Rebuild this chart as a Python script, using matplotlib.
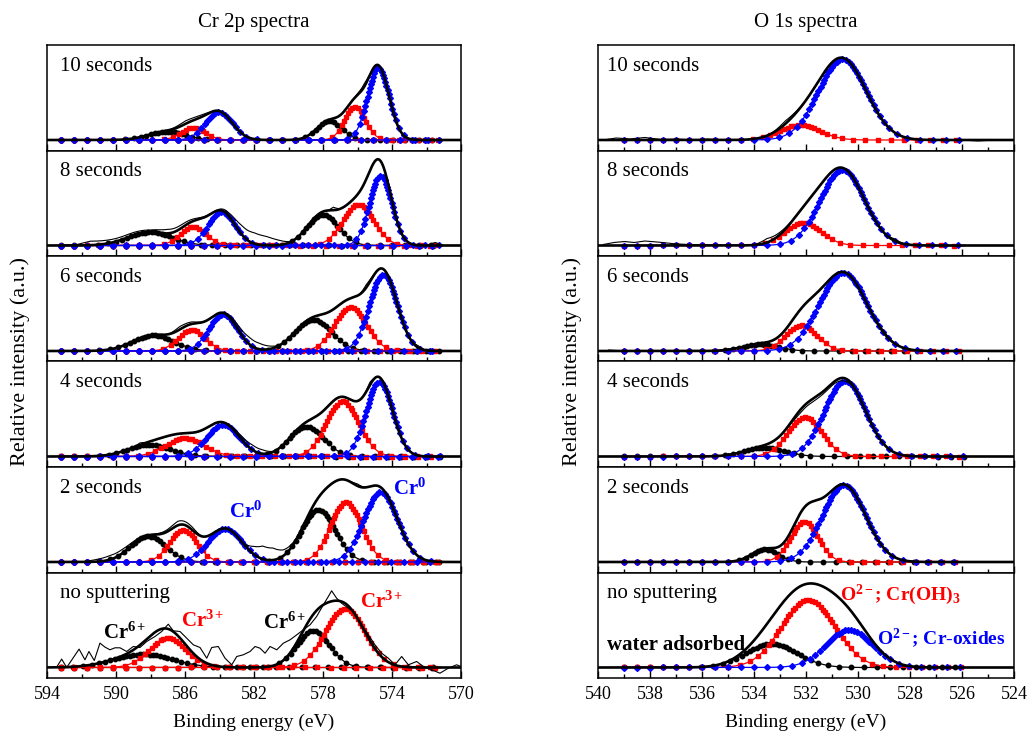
import numpy as np
import matplotlib
matplotlib.use("Agg")
import matplotlib.pyplot as plt

plt.rcParams["font.family"] = ["Liberation Serif", "DejaVu Serif"]
plt.rcParams["mathtext.fontset"] = "custom"
plt.rcParams["mathtext.rm"] = "Liberation Serif"
plt.rcParams["mathtext.bf"] = "Liberation Serif:bold"
plt.rcParams["mathtext.it"] = "Liberation Serif:italic"

panel_labels = ["10 seconds", "8 seconds", "6 seconds", "4 seconds", "2 seconds", "no sputtering"]

# Cr 2p fit components per panel: (centre eV, height, FWHM eV) for the 2p3/2 and 2p1/2 peaks
cr6_peaks = [
    [(577.63, 19.0, 1.70), (587.06, 8.3, 2.50)],
    [(578.02, 31.0, 2.10), (588.03, 13.3, 3.00)],
    [(578.56, 31.3, 2.50), (587.84, 15.7, 2.80)],
    [(578.95, 30.0, 2.32), (588.03, 11.7, 2.90)],
    [(578.27, 52.3, 2.30), (588.13, 25.7, 2.40)],
    [(578.56, 37.0, 2.22), (588.42, 13.3, 4.00)],
]
cr3_peaks = [
    [(576.14, 33.3, 1.40), (585.52, 12.3, 1.64)],
    [(575.95, 41.0, 2.10), (585.52, 19.0, 1.74)],
    [(576.40, 44.0, 2.16), (585.61, 21.3, 1.84)],
    [(576.86, 55.0, 2.22), (586.00, 18.3, 2.60)],
    [(576.67, 60.0, 2.10), (586.10, 32.3, 1.84)],
    [(576.72, 58.7, 2.70), (587.00, 29.3, 2.50)],
]
cr0_peaks = [
    [(574.79, 72.3, 1.47), (584.03, 27.7, 1.84)],
    [(574.66, 70.0, 1.50), (583.87, 33.3, 1.84)],
    [(574.50, 76.7, 1.90), (583.78, 36.7, 1.93)],
    [(574.73, 75.0, 1.80), (583.78, 31.7, 2.22)],
    [(574.66, 70.0, 2.30), (583.68, 33.3, 2.30)],
    [],
]

# O 1s fit components per panel: (centre eV, height, FWHM eV)
o_water = [None, None, (533.77, 6.7, 1.6), (533.58, 9.0, 1.8), (533.58, 12.7, 1.2), (533.32, 23.7, 2.3)]
o_hydroxide = [(532.23, 15.0, 1.8), (532.10, 23.0, 1.6), (532.17, 25.7, 1.4),
               (532.04, 39.3, 1.54), (532.06, 40.3, 1.25), (531.91, 67.7, 2.41)]
o_oxide = [(530.60, 80.7, 2.17), (530.60, 75.7, 2.0), (530.57, 78.3, 2.15),
           (530.50, 75.7, 1.85), (530.54, 77.0, 1.95), (530.33, 37.7, 2.10)]

# measured spectrum minus fit envelope, (eV, difference)
cr_residual = [
    [(587.0, 0), (586.0, 3), (585.0, 2), (584.3, 0), (576.3, 0), (575.6, 3), (575.1, 0)],
    [(592.5, 0), (591.5, 4), (590.0, 3), (589.0, 3), (588.0, 2), (587.0, 4), (586.0, 3), (585.0, 1),
     (584.3, 0), (583.5, 3), (582.7, 9), (582.0, 11), (581.3, 9), (580.6, 5), (579.8, 0),
     (577.7, 0), (577.4, 3), (577.0, 0), (572.0, 0), (571.5, 3), (571.0, 0)],
    [(587.0, 0), (586.3, 3), (585.6, 2), (585.0, 0), (583.8, 0), (583.0, 4), (582.3, 7), (581.7, 6),
     (581.1, 3), (580.5, 0), (575.9, 0), (575.5, 3), (574.9, 0), (573.0, 0), (572.5, 2), (572.0, 0)],
    [(589.0, 0), (588.6, 2), (588.2, 0), (583.6, 0), (582.8, 3), (582.1, 5), (581.5, 4), (580.8, 0),
     (575.6, 0), (575.3, 3), (575.0, 0)],
    [(592.0, 0), (591.2, 2), (590.4, 4), (589.6, 4), (588.8, 2), (588.0, 0), (587.0, 2), (586.4, 4),
     (585.6, 3), (585.0, 0), (582.6, 0), (582.0, 8), (581.5, 13), (580.9, 12), (580.3, 6),
     (579.7, 2), (579.2, 0), (576.5, 0), (576.0, 2), (575.5, 0)],
    None,
]
o_residual = [
    [(539.8, 0), (539.3, 2), (538.8, 1), (538.2, 2.5), (537.6, 0.5), (537.0, 1), (536.4, 0),
     (535.8, 1), (535.2, 0), (533.4, 0), (532.8, 3), (532.0, 0), (526.0, 0), (525.4, -1), (524.8, 0)],
    [(539.8, 1), (539.4, 3), (539.0, 4), (538.6, 3), (538.2, 4.5), (537.7, 3.5), (537.2, 2),
     (536.6, 1), (536.0, 0.5), (535.4, 0), (534.0, 0), (533.5, 4), (532.9, 2), (532.4, 0),
     (529.0, 0), (528.6, 2), (528.2, 0)],
    [(539.6, 1), (539.0, 0), (529.5, 0), (529.0, 2), (528.5, 0)],
    [(532.8, 0), (532.3, -3), (531.7, -3), (531.0, -2), (530.5, -3), (530.0, 0)],
    [],
    [],
]

# unsputtered Cr 2p spectrum (noisy)
cr_raw_energy = [593.44, 593.15, 592.86, 592.14, 591.80, 591.57, 591.26, 590.93, 590.64, 590.35,
                 590.06, 589.77, 589.38, 589.00, 588.61, 588.22, 587.74, 587.35, 586.97, 586.68,
                 586.29, 585.90, 585.52, 585.13, 584.74, 584.45, 584.07, 583.68, 583.29, 583.00,
                 582.62, 582.23, 581.94, 581.65, 581.36, 581.07, 580.68, 580.30, 579.91, 579.52,
                 579.14, 578.75, 578.37, 577.98, 577.69, 577.50, 577.21, 576.92, 576.53, 576.14,
                 575.76, 575.37, 574.99, 574.60, 574.21, 573.83, 573.44, 573.05, 572.57, 572.19,
                 571.70, 571.22, 570.74, 570.25, 570.00]
cr_raw_counts = [0.4, 8.4, 0.0, 18.4, 7.7, 16.0, 7.0, 24.4, 20.4, 17.7,
                 19.7, 19.7, 16.0, 21.0, 20.0, 26.0, 31.0, 36.0, 43.3, 36.7,
                 36.0, 29.3, 22.7, 20.0, 9.3, 20.0, 21.0, 9.3, 2.7, 11.0,
                 12.7, 16.0, 21.0, 19.3, 14.3, 21.0, 17.7, 24.3, 27.7, 32.7,
                 37.7, 42.7, 51.0, 62.7, 71.0, 76.7, 69.3, 64.3, 59.3, 54.3,
                 42.7, 32.7, 22.7, 14.3, 9.3, 2.7, 11.0, 2.7, 6.0, 1.0,
                 -2.3, -5.7, -0.7, 2.7, 1.0]

RED = "#ff0000"
BLUE = "#0000ff"


def gauss(e, peak):
    c, h, w = peak
    return h * np.exp(-4 * np.log(2) * ((e - c) / w) ** 2)


def marker_positions(e, y, px_per_ev, step=13.0):
    # denser symbols on the peaks, sparse on the flat baseline
    x = e * px_per_ev
    ds = np.hypot(np.diff(x), np.diff(y))
    ymax = max(y.max(), 1e-6)
    ds = ds * (1 + 3 * np.clip(y[1:], 0, None) / ymax)
    s = np.concatenate([[0], np.cumsum(ds)])
    return np.unique(np.searchsorted(s, np.arange(0, s[-1], step)))


def draw_component(ax, e, y, px_per_ev, color, marker, ms):
    ax.plot(e, y, color=color, lw=0.9, marker=marker, ms=ms, mec=color, mfc=color,
            markevery=list(marker_positions(e, y, px_per_ev)), zorder=2)


def style_axis(ax, lo, hi, major, minor, bottom):
    ax.set_xlim(hi, lo)
    ax.set_ylim(-10.5, 95)
    ax.set_xticks(major)
    ax.set_xticks(minor, minor=True)
    ax.set_yticks([])
    ax.tick_params(axis="x", which="major", direction="in", length=5, width=1, top=False,
                   labelbottom=bottom, labelsize=13, pad=6)
    ax.tick_params(axis="x", which="minor", direction="in", length=3, width=1, top=False)
    for sp in ax.spines.values():
        sp.set_linewidth(1.1)


fig = plt.figure(figsize=(10.28, 7.40), dpi=100)
W, H = 1028.0, 740.0
top, ph = 45.0, 105.5

cr_e = np.linspace(594, 570, 1201)
cr_comp_e = np.linspace(593.2, 571.2, 1101)
o_e = np.linspace(540, 524, 801)
o_comp_e = np.linspace(539.0, 525.9, 656)

for i in range(6):
    y0 = 1 - (top + (i + 1) * ph) / H
    bottom = i == 5

    # Cr 2p column
    ax = fig.add_axes([47 / W, y0, 414 / W, ph / H])
    ppe = 414 / 24.0
    env = np.zeros_like(cr_e)
    for peaks, color, marker, ms in [(cr6_peaks[i], "black", "o", 3.2),
                                     (cr3_peaks[i], RED, "s", 3.0),
                                     (cr0_peaks[i], BLUE, "D", 3.0)]:
        for p in peaks:
            env += gauss(cr_e, p)
            draw_component(ax, cr_comp_e, gauss(cr_comp_e, p), ppe, color, marker, ms)
    if cr_residual[i] is None:
        ax.plot(cr_raw_energy, cr_raw_counts, color="black", lw=0.8, zorder=3)
    else:
        kn = sorted(cr_residual[i])
        raw = env + np.interp(cr_e, [k[0] for k in kn], [k[1] for k in kn], left=0, right=0)
        ax.plot(cr_e, raw, color="black", lw=0.8, zorder=3)
    ax.plot(cr_e, env, color="black", lw=1.9, zorder=4)
    style_axis(ax, 570, 594, np.arange(570, 595, 4), np.arange(572, 593, 4), bottom)
    ax.text(0.031, 0.80, panel_labels[i], transform=ax.transAxes, fontsize=15, va="center")
    if i == 4:
        ax.text(582.46, 50, r"$\mathbf{Cr^0}$", color=BLUE, fontsize=15, ha="center", va="center")
        ax.text(573.0, 73, r"$\mathbf{Cr^0}$", color=BLUE, fontsize=15, ha="center", va="center")
    if i == 5:
        ax.text(589.48, 34.7, r"$\mathbf{Cr^{6+}}$", color="black", fontsize=15, ha="center", va="center")
        ax.text(585.0, 46.7, r"$\mathbf{Cr^{3+}}$", color=RED, fontsize=15, ha="center", va="center")
        ax.text(580.2, 44.7, r"$\mathbf{Cr^{6+}}$", color="black", fontsize=15, ha="center", va="center")
        ax.text(574.58, 65.7, r"$\mathbf{Cr^{3+}}$", color=RED, fontsize=15, ha="center", va="center")

    # O 1s column
    ax = fig.add_axes([598 / W, y0, 416 / W, ph / H])
    ppe = 416 / 16.0
    env = np.zeros_like(o_e)
    for p, color, marker, ms in [(o_water[i], "black", "o", 3.2),
                                 (o_hydroxide[i], RED, "s", 3.0),
                                 (o_oxide[i], BLUE, "D", 3.0)]:
        if p is None:
            continue
        env += gauss(o_e, p)
        draw_component(ax, o_comp_e, gauss(o_comp_e, p), ppe, color, marker, ms)
    kn = sorted(o_residual[i])
    if kn:
        raw = env + np.interp(o_e, [k[0] for k in kn], [k[1] for k in kn], left=0, right=0)
    else:
        raw = env
    ax.plot(o_e, raw, color="black", lw=0.8, zorder=3)
    ax.plot(o_e, env, color="black", lw=1.9, zorder=4)
    style_axis(ax, 524, 540, np.arange(524, 541, 2), np.arange(525, 540, 2), bottom)
    ax.text(0.022, 0.80, panel_labels[i], transform=ax.transAxes, fontsize=15, va="center")
    if i == 5:
        ax.text(539.65, 22.7, "water adsorbed", fontweight="bold", fontsize=15, va="center")
        ax.text(530.69, 72.7, r"$\mathbf{O^{2-};\,Cr(OH)_3}$", color=RED, fontsize=14, va="center")
        ax.text(529.27, 29.7, r"$\mathbf{O^{2-};\,Cr\text{-}oxides}$", color=BLUE, fontsize=14, va="center")

fig.text(254 / W, 1 - 22 / H, "Cr 2p spectra", fontsize=15, ha="center", va="center")
fig.text(806 / W, 1 - 22 / H, "O 1s spectra", fontsize=15, ha="center", va="center")
fig.text(254 / W, 1 - 722 / H, "Binding energy (eV)", fontsize=14, ha="center", va="center")
fig.text(806 / W, 1 - 722 / H, "Binding energy (eV)", fontsize=14, ha="center", va="center")
fig.text(20 / W, 1 - 362 / H, "Relative intensity (a.u.)", fontsize=16, rotation=90, ha="center", va="center")
fig.text(572 / W, 1 - 362 / H, "Relative intensity (a.u.)", fontsize=16, rotation=90, ha="center", va="center")

plt.savefig("out.png", dpi=100)
